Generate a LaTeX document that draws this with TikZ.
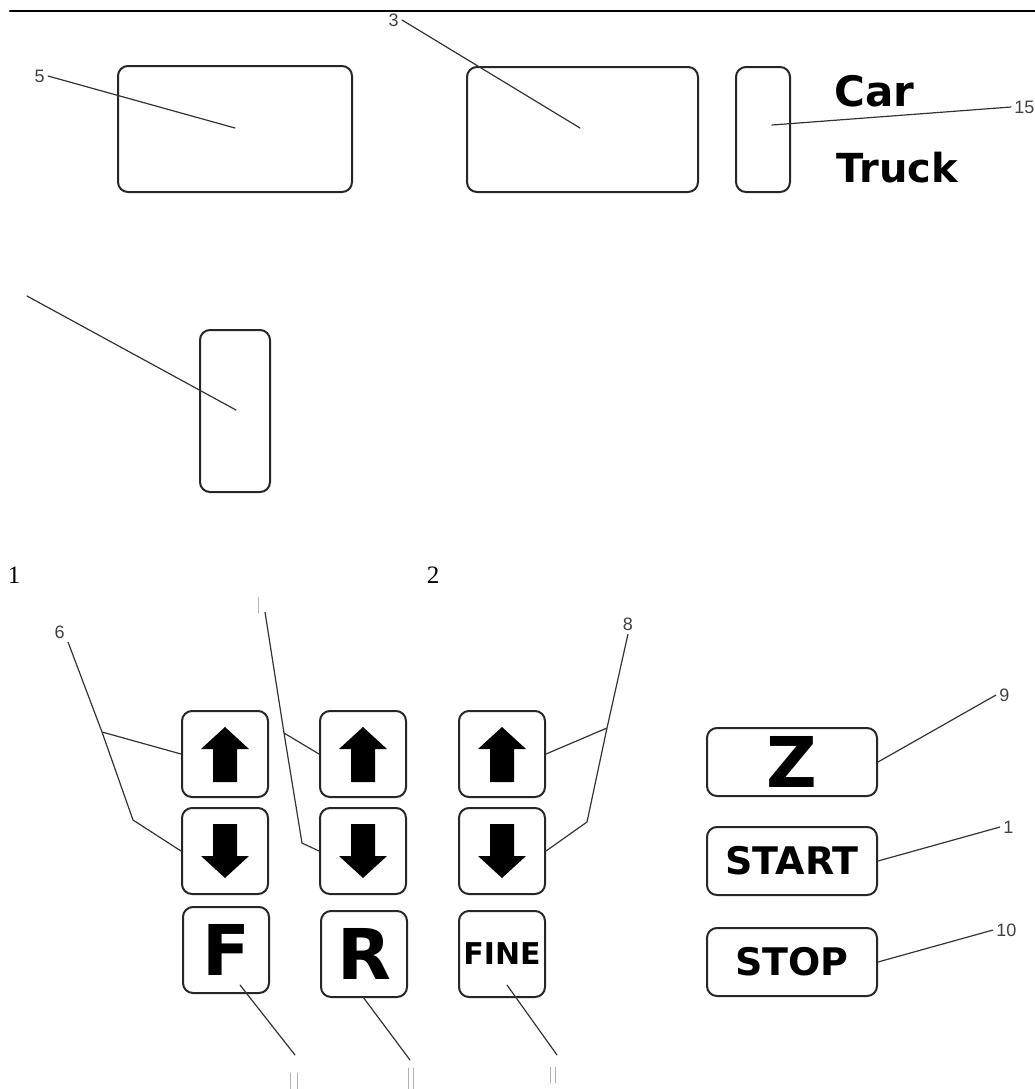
\documentclass[tikz,border=0pt]{standalone}
\usepackage{fontspec}
\setmainfont{Liberation Serif}
\newfontfamily\keyfont{DejaVu Sans}
\newfontfamily\callfont{Liberation Sans}
\usepackage{tikz}
\usepackage{tkz-euclide}
\usetikzlibrary{positioning, calc}

\tikzset{
  panel/.style={draw=black!85, line width=1pt, rounded corners=5pt},
  keybox/.style={draw=black!85, line width=1pt, rounded corners=5pt,
    minimum width=43pt, minimum height=43pt, inner sep=0pt},
  widekey/.style={keybox, minimum width=85pt, minimum height=34pt},
  bigglyph/.style={font=\keyfont\bfseries\fontsize{35}{35}\selectfont},
  wordglyph/.style={font=\keyfont\bfseries\fontsize{19}{19}\selectfont},
  fineglyph/.style={font=\keyfont\bfseries\fontsize{15}{15}\selectfont},
  leader/.style={draw=black!80, line width=0.6pt},
  callout/.style={font=\callfont\fontsize{9}{9}\selectfont, text=black!75, inner sep=1.5pt},
  stub/.style={draw=black!30, line width=0.4pt}
}

\begin{document}
\begin{tikzpicture}[x=0.5pt, y=-0.5pt, >=latex]
\useasboundingbox (0,0) rectangle (1035,1089);
\tkzDefPoints{10/11/r1, 1035/11/r2}
\tkzDrawSegment[line width=1.3pt](r1,r2)
% displays
\tkzDefPoints{118/66/a, 352/192/c}
\tkzDefPoints{467/67/e, 698/192/g}
\tkzDefPoints{736/67/i, 790/192/k}
\tkzDefPoints{200/330/m, 270/492/o}
\draw[panel] (a) rectangle (c);
\draw[panel] (e) rectangle (g);
\draw[panel] (i) rectangle (k);
\draw[panel] (m) rectangle (o);
\node[font=\keyfont\bfseries\fontsize{21}{21}\selectfont, anchor=base west, inner sep=0pt] (car) at (834,106) {Car};
\node[font=\keyfont\bfseries\fontsize{20}{20}\selectfont, anchor=base west, inner sep=0pt] (truck) at (836,182) {Truck};
\tkzDefPoints{48/76/A, 235/128/a', 402/20/B, 580/128/b', 1011/107/C, 772/125/c', 27/296/D, 236/410/d'}
\tkzDrawSegments[leader](A,a' B,b' C,c' D,d')
\tkzLabelPoint[left, callout](A){5}
\tkzLabelPoint[left, callout](B){3}
\tkzLabelPoint[right, callout](C){15}
\node (n1) at (14,575) {\fontsize{12.5}{12.5}\selectfont 1};
\node (n2) at (433,575) {\fontsize{12.5}{12.5}\selectfont 2};
% keys
\node[keybox] (up1) at (225,754) {};
\node[keybox] (dn1) at (225,851) {};
\node[keybox, bigglyph] (kf) at (226,950) {F};
\node[keybox] (up2) at (363,754) {};
\node[keybox] (dn2) at (363,851) {};
\node[keybox, bigglyph] (kr) at (364,954) {R};
\node[keybox] (up3) at (502,754) {};
\node[keybox] (dn3) at (502,851) {};
\node[keybox, fineglyph] (kfine) at (502,954) {FINE};
\node[widekey, bigglyph] (kz) at (792,762) {Z};
\node[widekey, wordglyph] (kstart) at (792,861) {START};
\node[widekey, wordglyph] (kstop) at (792,962) {STOP};
\foreach \k in {up1,up2,up3}
  \fill[shift={(\k)}] (0,-27) -- (24,-5) -- (12,-5) -- (12,28) -- (-12,28) -- (-12,-5) -- (-24,-5) -- cycle;
\foreach \k in {dn1,dn2,dn3}
  \fill[shift={(\k)}] (0,27) -- (24,5) -- (12,5) -- (12,-27) -- (-12,-27) -- (-12,5) -- (-24,5) -- cycle;
% leaders of the keys
\tkzDefPoints{68/642/E, 102/732/e1, 133/820/e2}
\tkzDefPoints{265/612/G, 284/733/g1, 302/843/g2}
\tkzDefPoints{628/634/H, 607/728/h1, 587/822/h2}
\draw[leader] (E) -- (e1) -- (up1.west) (e1) -- (e2) -- (dn1.west);
\draw[leader] (G) -- (g1) -- (up2.west) (g1) -- (g2) -- (dn2.west);
\draw[leader] (H) -- (h1) -- (up3.east) (h1) -- (h2) -- (dn3.east);
\tkzLabelPoint[above left, callout](E){6}
\tkzLabelPoint[above, callout](H){8}
\tkzDefPoints{996/695/I, 1000/827/J, 993/930/K}
\draw[leader] (kz.east) -- (I);
\draw[leader] (kstart.east) -- (J);
\draw[leader] (kstop.east) -- (K);
\tkzLabelPoint[right, callout](I){9}
\tkzLabelPoint[right, callout](J){1}
\tkzLabelPoint[right, callout](K){10}
\tkzDefPoints{240/985/L, 295/1055/l1, 363/997/M, 410/1060/m1, 507/985/N, 557/1055/n1}
\tkzDrawSegments[leader](L,l1 M,m1 N,n1)
% cut label stubs
\tkzDefPoints{258/597/s1, 258/613/s2, 290/1073/s3, 290/1089/s4, 297/1073/s5, 297/1089/s6}
\tkzDefPoints{408/1068/s7, 408/1089/s8, 413/1068/s9, 413/1089/s10, 550/1067/s11, 550/1083/s12, 555/1067/s13, 555/1083/s14}
\tkzDrawSegments[stub](s1,s2 s3,s4 s5,s6 s7,s8 s9,s10 s11,s12 s13,s14)
\end{tikzpicture}
\end{document}
